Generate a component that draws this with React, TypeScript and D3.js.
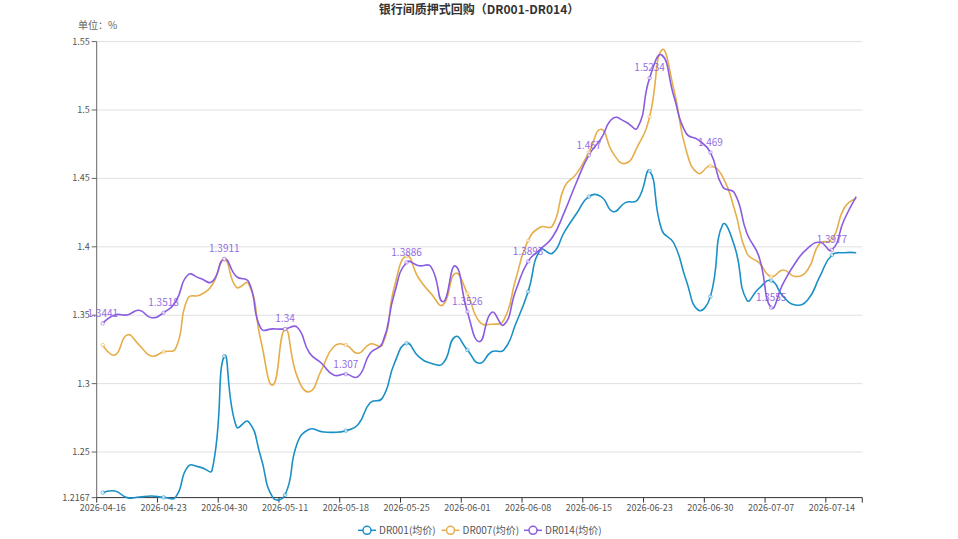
import React from "react";
import * as d3 from "d3";

const dates = [
  "2026-04-16","2026-04-17","2026-04-20","2026-04-21","2026-04-22","2026-04-23","2026-04-24","2026-04-27","2026-04-28","2026-04-29",
  "2026-04-30","2026-05-06","2026-05-07","2026-05-08","2026-05-09","2026-05-11","2026-05-12","2026-05-13","2026-05-14","2026-05-15",
  "2026-05-18","2026-05-19","2026-05-20","2026-05-21","2026-05-22","2026-05-25","2026-05-26","2026-05-27","2026-05-28","2026-05-29",
  "2026-06-01","2026-06-02","2026-06-03","2026-06-04","2026-06-05","2026-06-08","2026-06-09","2026-06-10","2026-06-11","2026-06-12",
  "2026-06-15","2026-06-16","2026-06-17","2026-06-18","2026-06-22","2026-06-23","2026-06-24","2026-06-25","2026-06-26","2026-06-29",
  "2026-06-30","2026-07-01","2026-07-02","2026-07-03","2026-07-06","2026-07-07","2026-07-08","2026-07-09","2026-07-10","2026-07-13",
  "2026-07-14","2026-07-15","2026-07-16"
];

const dr001 = [
  1.2203, 1.2215, 1.2167, 1.2171, 1.2179, 1.2169, 1.2172, 1.2393, 1.2390, 1.2369,
  1.3200, 1.2685, 1.2722, 1.2466, 1.2167, 1.2186, 1.2564, 1.2666, 1.2649, 1.2644,
  1.2656, 1.2700, 1.2860, 1.2893, 1.3149, 1.3295, 1.3197, 1.3149, 1.3149, 1.3343,
  1.3246, 1.3149, 1.3233, 1.3246, 1.3441, 1.3672, 1.3977, 1.3953, 1.4111, 1.4245,
  1.4367, 1.4367, 1.4257, 1.4323, 1.4342, 1.4554, 1.4123, 1.4026, 1.3758, 1.3538,
  1.3636, 1.4160, 1.4001, 1.3611, 1.3697, 1.3753, 1.3636, 1.3575, 1.3611, 1.3782,
  1.3940, 1.3957, 1.3957
];

const dr007 = [
  1.3282, 1.3209, 1.3356, 1.3282, 1.3202, 1.3233, 1.3258, 1.3624, 1.3648, 1.3721,
  1.3909, 1.3704, 1.3733, 1.3319, 1.2990, 1.3397, 1.3051, 1.2941, 1.3100, 1.3270,
  1.3282, 1.3222, 1.3290, 1.3282, 1.3709, 1.3933, 1.3770, 1.3660, 1.3575, 1.3806,
  1.3660, 1.3453, 1.3434, 1.3465, 1.3770, 1.4045, 1.4143, 1.4152, 1.4440, 1.4537,
  1.4690, 1.4859, 1.4683, 1.4610, 1.4732, 1.4951, 1.5439, 1.5147, 1.4708, 1.4537,
  1.4591, 1.4513, 1.4269, 1.3953, 1.3884, 1.3782, 1.3831, 1.3782, 1.3831, 1.4026,
  1.4050, 1.4282, 1.4355
];

const dr014 = [
  1.3441, 1.3502, 1.3502, 1.3536, 1.3482, 1.3518, 1.3600, 1.3794, 1.3770, 1.3745,
  1.3911, 1.3782, 1.3745, 1.3405, 1.3400, 1.3400, 1.3412, 1.3226, 1.3149, 1.3063,
  1.3070, 1.3051, 1.3222, 1.3295, 1.3660, 1.3886, 1.3862, 1.3855, 1.3599, 1.3860,
  1.3526, 1.3307, 1.3521, 1.3429, 1.3685, 1.3893, 1.3982, 1.4070, 1.4257, 1.4476,
  1.4670, 1.4790, 1.4940, 1.4915, 1.4870, 1.5234, 1.5402, 1.5098, 1.4830, 1.4781,
  1.4690, 1.4440, 1.4391, 1.4099, 1.3928, 1.3555, 1.3734, 1.3884, 1.3989, 1.4033,
  1.3977, 1.4196, 1.4367
];

const seriesNames = ["DR001(均价)", "DR007(均价)", "DR014(均价)"];
const seriesColors = ["#1a90c6", "#e6ae4a", "#8a5ce0"];
const yTicks = [1.2167, 1.25, 1.3, 1.35, 1.4, 1.45, 1.5, 1.55];
const labelInterval = 5;
const title = "银行间质押式回购（DR001-DR014）";
const unitText = "单位：%";

const W = 958;
const H = 539;
const FONT = "'Microsoft YaHei', 'Noto Sans CJK SC', 'Noto Sans', sans-serif";

function smoothPath(pts: [number, number][], smooth = 0.5): string {
  const p = d3.path();
  let cpx0 = 0, cpy0 = 0, prevX = 0, prevY = 0;
  for (let k = 0; k < pts.length; k++) {
    const [x, y] = pts[k];
    if (k === 0) {
      p.moveTo(x, y);
      cpx0 = x; cpy0 = y;
    } else {
      let nextCpx0: number, nextCpy0: number, vx = 0, vy = 0, ratio = 0.5;
      if (k === pts.length - 1) {
        nextCpx0 = x; nextCpy0 = y;
      } else {
        const [nx, ny] = pts[k + 1];
        vx = nx - prevX; vy = ny - prevY;
        const l0 = Math.hypot(x - prevX, y - prevY);
        const l1 = Math.hypot(nx - x, ny - y);
        ratio = l1 / (l0 + l1);
        nextCpx0 = x - vx * smooth * (1 - ratio);
        nextCpy0 = y - vy * smooth * (1 - ratio);
      }
      p.bezierCurveTo(cpx0, cpy0, nextCpx0, nextCpy0, x, y);
      cpx0 = x + vx * smooth * ratio;
      cpy0 = y + vy * smooth * ratio;
    }
    prevX = x; prevY = y;
  }
  return p.toString();
}

export default function App() {
  const left = 96.7, right = 862.3, top = 41.6, bottom = 497.6;
  const x = d3.scaleBand<string>().domain(dates).range([left, right]).padding(0);
  const y = d3.scaleLinear().domain([1.2167, 1.55]).range([bottom, top]);
  const bw = x.bandwidth();
  const cx = (d: string) => (x(d) as number) + bw / 2;
  const allSeries = [dr001, dr007, dr014];
  const labelIdx = dates.map((_, i) => i).filter((i) => i % labelInterval === 0);

  const legendX = [358, 441.5, 524];
  const legendY = 530.3;

  return (
    <svg width={W} height={H} style={{ position: "absolute", left: 0, top: 0, background: "#fff" }} fontFamily={FONT}>
      <text x={479} y={13.5} textAnchor="middle" fontSize={12} fontWeight="bold" fill="#333">{title}</text>
      <text x={78} y={28.5} fontSize={10} fill="#666">{unitText}</text>

      {yTicks.slice(1).map((t) => (
        <line key={"g" + t} x1={left} x2={right} y1={y(t)} y2={y(t)} stroke="#e0e0e0" strokeWidth={1} />
      ))}
      {yTicks.map((t) => (
        <g key={"yt" + t}>
          <line x1={left - 5} x2={left} y1={y(t)} y2={y(t)} stroke="#666" />
          <text x={left - 7} y={y(t) + 3} textAnchor="end" fontSize={9} fill="#555">{String(t)}</text>
        </g>
      ))}
      <line x1={left} x2={left} y1={top} y2={bottom} stroke="#666" />

      <line x1={left} x2={right} y1={bottom} y2={bottom} stroke="#333" />
      {labelIdx.map((i) => (
        <g key={"xt" + i}>
          <line x1={x(dates[i]) as number} x2={x(dates[i]) as number} y1={bottom} y2={bottom + 5} stroke="#333" />
          <text x={cx(dates[i])} y={bottom + 13} textAnchor="middle" fontSize={9} fill="#555">{dates[i]}</text>
        </g>
      ))}
      <line x1={right} x2={right} y1={bottom} y2={bottom + 5} stroke="#333" />

      {allSeries.map((s, si) => {
        const pts = s.map((v, i) => [cx(dates[i]), y(v)] as [number, number]);
        return (
          <path key={"s" + si} d={smoothPath(pts)} fill="none" stroke={seriesColors[si]} strokeWidth={1.6} />
        );
      })}
      {allSeries.map((s, si) => (
        <g key={"sym" + si}>
          {labelIdx.map((i) => (
            <circle key={i} cx={cx(dates[i])} cy={y(s[i])} r={1.8} fill="#fff" stroke={seriesColors[si]} strokeWidth={0.8} opacity={0.7} />
          ))}
        </g>
      ))}
      {labelIdx.map((i) => (
        <text key={"lb" + i} x={cx(dates[i])} y={y(dr014[i]) - 6.5} textAnchor="middle" fontSize={10} fill={seriesColors[2]} opacity={0.9}>
          {String(dr014[i])}
        </text>
      ))}

      {seriesNames.map((n, si) => (
        <g key={"lg" + si}>
          <line x1={legendX[si]} x2={legendX[si] + 18} y1={legendY} y2={legendY} stroke={seriesColors[si]} strokeWidth={1.5} />
          <circle cx={legendX[si] + 9} cy={legendY} r={4} fill="#fff" stroke={seriesColors[si]} strokeWidth={1.5} />
          <text x={legendX[si] + 21} y={legendY + 3.5} fontSize={10} fill="#555">{n}</text>
        </g>
      ))}
    </svg>
  );
}
